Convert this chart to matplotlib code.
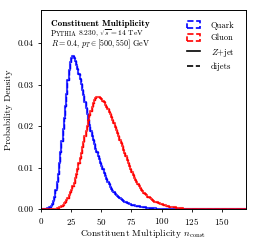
import numpy as np
import matplotlib
matplotlib.use('Agg')
import matplotlib.pyplot as plt
from matplotlib.patches import Patch
from matplotlib.lines import Line2D

plt.rcParams['font.family'] = ['cmr10', 'DejaVu Serif']
plt.rcParams['mathtext.fontset'] = 'cm'
plt.rcParams['axes.formatter.use_mathtext'] = True
plt.rcParams['axes.unicode_minus'] = False

# probability density per unit-width multiplicity bin, starting at n = 0
quark = [0, 0, 0, 0, 0.0001, 0.0002, 0.0003, 0.0005, 0.0008, 0.0013,
         0.002, 0.003, 0.0045, 0.0065, 0.0085, 0.011, 0.0138, 0.0165, 0.0192, 0.022,
         0.0248, 0.0278, 0.031, 0.0335, 0.0355, 0.0365, 0.0368, 0.0364, 0.0356, 0.0347,
         0.0337, 0.0326, 0.0314, 0.0301, 0.0288, 0.0274, 0.0259, 0.0244, 0.0229, 0.0215,
         0.0202, 0.0189, 0.0177, 0.0166, 0.0156, 0.0146, 0.0137, 0.0128, 0.0120, 0.0112,
         0.0104, 0.0096, 0.0088, 0.0080, 0.0073, 0.0066, 0.0060, 0.0054, 0.0049, 0.0044,
         0.0040, 0.0037, 0.0034, 0.0031, 0.0028, 0.0026, 0.0024, 0.0022, 0.0020, 0.0018,
         0.0017, 0.0015, 0.0014, 0.0013, 0.0012, 0.0011, 0.0010, 0.0009, 0.00085, 0.0008,
         0.0007, 0.00065, 0.0006, 0.00055, 0.0005, 0.00045, 0.0004, 0.00035, 0.0003, 0.0003,
         0.00025, 0.00022, 0.0002, 0.00018, 0.00015, 0.00013, 0.00011, 0.0001, 0.00009, 0.00008,
         0.00007, 0.00006, 0.00005, 0.00004, 0.00003, 0.00002]

gluon = [0, 0, 0, 0, 0, 0, 0, 0, 0, 0,
         0, 0, 0.0001, 0.0002, 0.0003, 0.0004, 0.0006, 0.0008, 0.0011, 0.0014,
         0.0018, 0.0022, 0.0027, 0.0033, 0.0040, 0.0047, 0.0055, 0.0064, 0.0074, 0.0085,
         0.0097, 0.0110, 0.0123, 0.0136, 0.0149, 0.0162, 0.0175, 0.0188, 0.0201, 0.0214,
         0.0226, 0.0237, 0.0247, 0.0255, 0.0262, 0.0267, 0.0270, 0.0271, 0.0270, 0.0268,
         0.0265, 0.0261, 0.0257, 0.0252, 0.0247, 0.0241, 0.0235, 0.0228, 0.0221, 0.0214,
         0.0207, 0.0199, 0.0191, 0.0183, 0.0175, 0.0167, 0.0159, 0.0151, 0.0143, 0.0135,
         0.0127, 0.0119, 0.0111, 0.0103, 0.0096, 0.0089, 0.0082, 0.0076, 0.0070, 0.0065,
         0.0060, 0.0055, 0.0051, 0.0047, 0.0043, 0.0039, 0.0036, 0.0033, 0.0030, 0.0028,
         0.0026, 0.0024, 0.0022, 0.0020, 0.0018, 0.0017, 0.0016, 0.0015, 0.0014, 0.0013,
         0.0012, 0.0011, 0.0010, 0.0009, 0.0008, 0.0007, 0.0006, 0.0006, 0.0005, 0.0005,
         0.0004, 0.0004, 0.0003, 0.0003, 0.0002, 0.0002, 0.00015, 0.00015, 0.0001, 0.0001,
         0.0001, 0.00005, 0.00005, 0.00005, 0.00005, 0.00005]

xmax = 170


def step_xy(vals):
    # left bin edges, then run flat at zero out to the axis end
    x = list(range(len(vals))) + [len(vals), xmax]
    y = list(vals) + [0, 0]
    return x, y


fig = plt.figure(figsize=(2.56, 2.42), dpi=100)
ax = fig.add_axes([0.16, 0.136, 0.801, 0.823])

# Z+jet (solid) and dijets (dashed) lie on top of each other
for vals, col in [(quark, 'blue'), (gluon, 'red')]:
    x, y = step_xy(vals)
    ax.step(x, y, where='post', color=col, lw=1.5, ls='-', alpha=0.75)
    ax.step(x, y, where='post', color=col, lw=1.0, ls='--')

ax.set_xlim(0, xmax)
ax.set_ylim(0, 0.048)
ax.set_xticks([0, 25, 50, 75, 100, 125, 150])
ax.set_yticks([0, 0.01, 0.02, 0.03, 0.04])
ax.set_yticklabels(['0.00', '0.01', '0.02', '0.03', '0.04'])
ax.tick_params(labelsize=6.5, length=2.5, width=0.6, pad=2.5)
for s in ax.spines.values():
    s.set_linewidth(0.7)

ax.set_xlabel(r'Constituent Multiplicity $n_\mathrm{const}$', fontsize=6.8)
ax.xaxis.set_label_coords(0.5, -0.09)
ax.set_ylabel('Probability Density', fontsize=6.8)
ax.yaxis.set_label_coords(-0.135, 0.5)

ax.text(0.05, 0.92, 'Constituent Multiplicity', transform=ax.transAxes,
        fontsize=6.6, family='cmb10')

# small-caps "Pythia": place the pieces one after another on one baseline
fig.canvas.draw()
rend = fig.canvas.get_renderer()
inv = ax.transAxes.inverted()
x0, yb = 0.05, 0.869
for piece, fs in [('P', 5.6), ('YTHIA', 4.5), (r'8.230, $\sqrt{s}=14$ TeV', 5.4)]:
    t = ax.text(x0, yb, piece, transform=ax.transAxes, fontsize=fs)
    bb = t.get_window_extent(rend)
    gap = 0.7 if piece == 'P' else -1.8
    x0 = inv.transform((bb.x1 - gap, bb.y0))[0]

ax.text(0.05, 0.8156, r'$R=0.4$, $p_T\in[500,550]$ GeV', transform=ax.transAxes,
        fontsize=5.8)

handles = [Patch(facecolor='none', edgecolor='blue', ls='--', lw=1.2),
           Patch(facecolor='none', edgecolor='red', ls='--', lw=1.2),
           Line2D([], [], color='black', lw=1.2),
           Line2D([], [], color='black', lw=1.2, ls='--')]
labels = ['Quark', 'Gluon', r'$Z$+jet', 'dijets']
ax.legend(handles, labels, loc='upper right', frameon=False, fontsize=6.2,
          handlelength=1.5, handleheight=0.8, labelspacing=0.5,
          borderaxespad=0.9, handletextpad=1.3)

fig.savefig('out.png', dpi=100)
